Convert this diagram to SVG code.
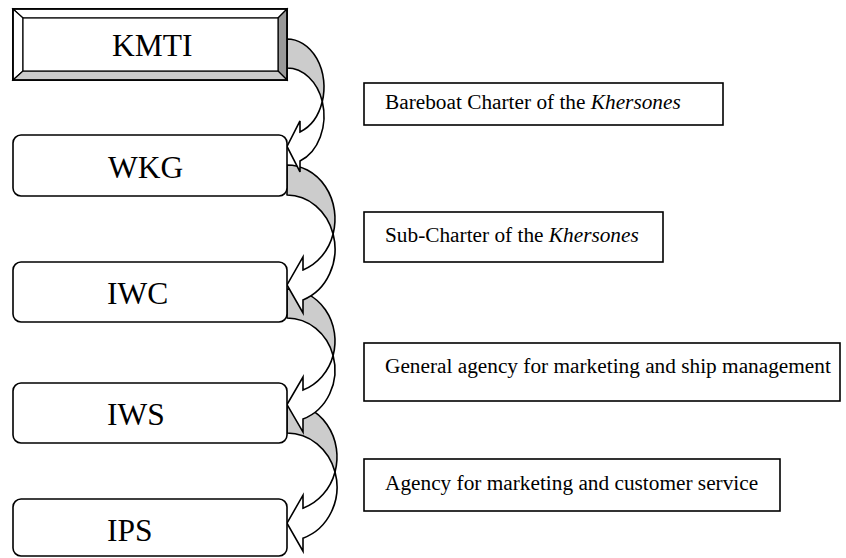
<svg xmlns="http://www.w3.org/2000/svg" width="846" height="558" viewBox="0 0 846 558">
<style>
.node{fill:#fff;stroke:#000;stroke-width:1.6}
.lbl{fill:#fff;stroke:#000;stroke-width:1.6}
.nt{font-family:"Liberation Serif","Times New Roman",serif;font-size:31.5px;fill:#000}
.lt{font-family:"Liberation Serif","Times New Roman",serif;font-size:21.3px;fill:#000}
.back{fill:#cccccc;stroke:#000;stroke-width:1.6;stroke-linejoin:round}
.front{fill:#fff;stroke:#000;stroke-width:1.6;stroke-linejoin:miter}
.bev{stroke:#000;stroke-width:1.2}
</style>
<rect width="846" height="558" fill="#fff"/>
<g id="connectors">
  <g id="arrow-IWS-IPS">
    <path class="back" d="M287,403 A50,54 0 0 1 335.03,472 A50,54 0 0 0 287,433 Z"/>
    <path class="front" d="M335.03,472 A50,54 0 0 1 303,538.16 L303,551.16 L287,523.16 L303,495.16 L303,508.16 A50,54 0 0 0 335.03,472 Z"/>
  </g>
  <g id="arrow-IWC-IWS">
    <path class="back" d="M287,289 A48,52 0 0 1 333.1,355.5 A48,52 0 0 0 287,318 Z"/>
    <path class="front" d="M333.1,355.5 A48,52 0 0 1 303,419.03 L303,432.03 L287,404.53 L303,377.03 L303,390.03 A48,52 0 0 0 333.1,355.5 Z"/>
  </g>
  <g id="arrow-WKG-IWC">
    <path class="back" d="M287,165 A48,54 0 0 1 333.11,234 A48,54 0 0 0 287,195 Z"/>
    <path class="front" d="M333.11,234 A48,54 0 0 1 303,299.91 L303,312.91 L287,284.91 L303,256.91 L303,269.91 A48,54 0 0 0 333.11,234 Z"/>
  </g>
  <g id="arrow-KMTI-WKG">
    <path class="back" d="M287,39 A37,48 0 0 1 322.27,101.5 A37,48 0 0 0 287,68 Z"/>
    <path class="front" d="M322.27,101.5 A37,48 0 0 1 300,160.94 L300,171.94 L287,146.44 L300,120.94 L300,131.94 A37,48 0 0 0 322.27,101.5 Z"/>
  </g>
</g>
<g id="KMTI">
  <rect x="13" y="9" width="274" height="71" fill="#fff" stroke="#000" stroke-width="1.6"/>
  <polygon class="bev" points="13,9 287,9 278,18 23,18" fill="#fff"/>
  <polygon class="bev" points="13,9 23,18 23,71 13,80" fill="#fff"/>
  <polygon class="bev" points="287,9 287,80 278,71 278,18" fill="#999999"/>
  <polygon class="bev" points="13,80 287,80 278,71 23,71" fill="#cccccc"/>
  <rect x="23" y="18" width="255" height="53" fill="#fff" stroke="#000" stroke-width="1.2"/>
  <rect x="13" y="9" width="274" height="71" fill="none" stroke="#000" stroke-width="1.6"/>
  <text class="nt" x="112" y="56">KMTI</text>
</g>
<g id="WKG">
  <rect class="node" x="13" y="135" width="274" height="61" rx="8"/>
  <text class="nt" x="108" y="178">WKG</text>
</g>
<g id="IWC">
  <rect class="node" x="13" y="262" width="274" height="60" rx="8"/>
  <text class="nt" x="107" y="304">IWC</text>
</g>
<g id="IWS">
  <rect class="node" x="13" y="383" width="274" height="60" rx="8"/>
  <text class="nt" x="107" y="425">IWS</text>
</g>
<g id="IPS">
  <rect class="node" x="13" y="499" width="274" height="57" rx="8"/>
  <text class="nt" x="107" y="541">IPS</text>
</g>
<g id="label-bareboat">
  <rect class="lbl" x="364" y="83" width="359" height="42"/>
  <text class="lt" x="385" y="109">Bareboat Charter of the <tspan font-style="italic">Khersones</tspan></text>
</g>
<g id="label-subcharter">
  <rect class="lbl" x="364" y="212" width="299" height="50"/>
  <text class="lt" x="385" y="242">Sub-Charter of the <tspan font-style="italic">Khersones</tspan></text>
</g>
<g id="label-general-agency">
  <rect class="lbl" x="364" y="343" width="476" height="58"/>
  <text class="lt" x="385" y="373">General agency for marketing and ship management</text>
</g>
<g id="label-agency">
  <rect class="lbl" x="364" y="459" width="416" height="52"/>
  <text class="lt" x="385" y="490">Agency for marketing and customer service</text>
</g>
</svg>
